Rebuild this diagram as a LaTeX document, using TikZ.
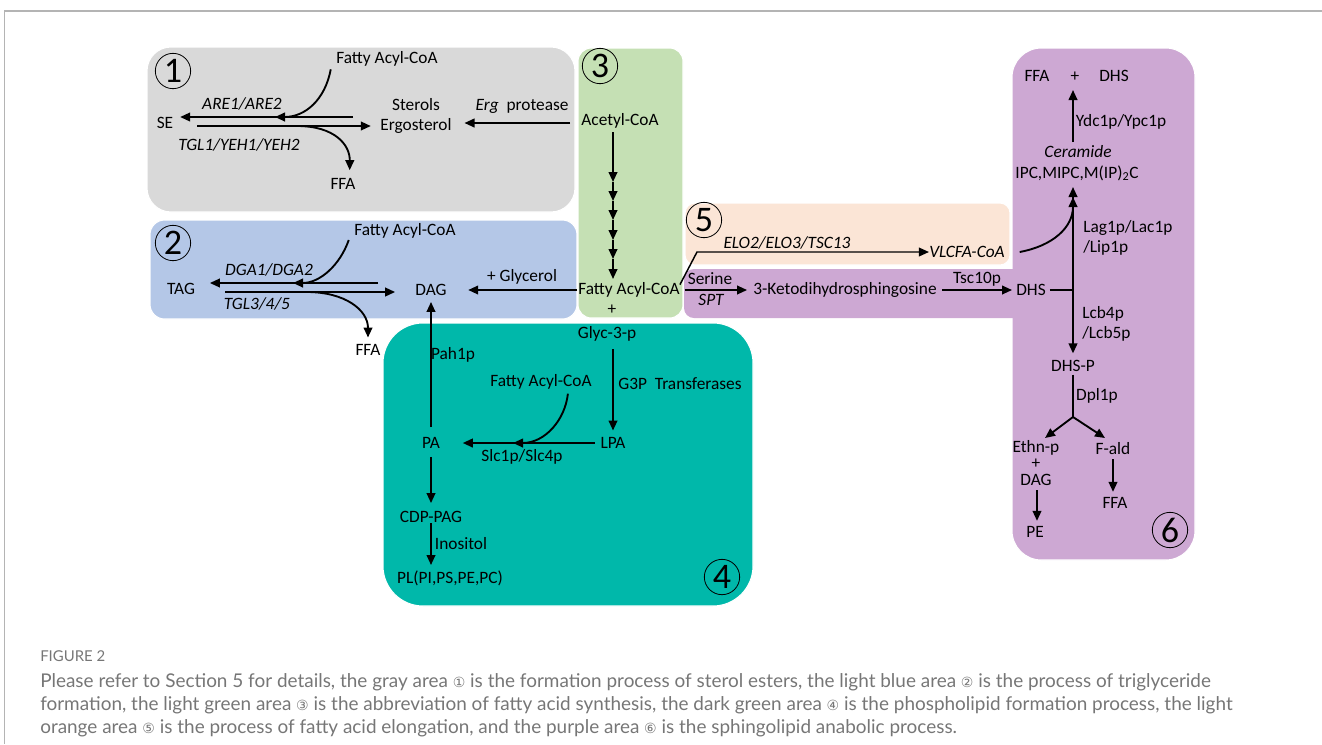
\documentclass[tikz,border=0pt]{standalone}
\usepackage{fontspec}
\setmainfont{Carlito}
\newfontfamily\capfont{Lato}
\newfontfamily\symfont{DejaVu Sans}
\usepackage{tikz}
\usetikzlibrary{arrows.meta}
\definecolor{graybox}{HTML}{D9D9D9}
\definecolor{bluebox}{HTML}{B4C7E7}
\definecolor{greenbox}{HTML}{C5E0B4}
\definecolor{orangebox}{HTML}{FBE5D6}
\definecolor{purplebox}{HTML}{CDA8D3}
\definecolor{tealbox}{HTML}{00B8AA}
\definecolor{captext}{HTML}{767676}
\definecolor{framegray}{HTML}{B4B4B4}
\tikzstyle{line} = [draw, -{Triangle[length=7.5pt,width=6.5pt]}, line width=1.4pt]
\tikzstyle{plain} = [draw, line width=1.4pt]
\tikzstyle{eline} = [draw, -{Triangle[length=7.5pt,width=6.5pt]}, line width=1.1pt]
\tikzstyle{num} = [circle, draw, line width=0.6pt, inner sep=0pt, minimum size=26.5pt, font=\fontsize{27}{27}\selectfont]
\tikzstyle{box} = [draw=white, line width=0.8pt]
\tikzstyle{captxt} = [anchor=base west, inner sep=0pt, text=captext, font=\capfont\fontsize{14.2}{17}\selectfont]
\newcommand{\cnum}[1]{{\symfont\fontsize{10.5}{11}\selectfont #1}}

\begin{document}
\begin{tikzpicture}[x=7.5pt,y=-7.5pt,font=\fontsize{13}{15}\selectfont,every node/.append style={inner sep=0pt}]
	\useasboundingbox (0,0) rectangle (132.2,74.4);
	\draw[framegray, line width=1pt] (132.2,1.1) -- (0.45,1.1) -- (0.45,74.4);
	% -------------- areas --------------
	\filldraw[box, fill=graybox, rounded corners=18pt]     (14.7,4.7)  rectangle (57.5,21.2);
	\filldraw[box, fill=bluebox, rounded corners=11pt]     (15.0,22.0) rectangle (57.7,31.9);
	\filldraw[box, fill=greenbox, rounded corners=10pt]    (57.8,4.8)  rectangle (68.3,31.8);
	\filldraw[box, fill=purplebox, rounded corners=22pt]   (101.2,4.8) rectangle (119.5,56.0);
	\fill[purplebox, rounded corners=7.5pt]                (68.4,26.9) rectangle (103.0,31.8);
	\filldraw[box, fill=orangebox, rounded corners=7.5pt]  (68.5,20.3) rectangle (101.0,26.5);
	\filldraw[box, fill=tealbox, rounded corners=30pt]     (38.3,32.3) rectangle (75.3,60.6);
	% -------------- Area 1 --------------
	\node[num] (n1) at (17.3,7.1) {1};
	\node (fa1)  at (38.7,5.9)  {Fatty Acyl-CoA};
	\node (are)  at (24.2,10.4) {\itshape ARE1/ARE2};
	\node (se)   at (16.5,12.3) {SE};
	\node[align=center] (ster) at (41.6,11.6) {Sterols\\Ergosterol};
	\node (erg)  at (52.2,10.6) {\textit{Erg}\ \ protease};
	\node (tgl1) at (23.9,14.5) {\itshape TGL1/YEH1/YEH2};
	\node (ffa1) at (34.3,18.4) {FFA};
	\coordinate (s1a) at (35.3,11.7);
	\coordinate (s1b) at (19.7,12.6);
	\coordinate (s1c) at (27.5,11.7);
	\coordinate (s1d) at (29.7,12.6);
	\coordinate (s1e) at (57.0,12.3);
	\draw[line] (s1a) -- ([xshift=5pt]se.east |- s1a);
	\draw[line] (s1b) -- ([xshift=-7pt]ster.west |- s1b);
	\draw[line] ([xshift=-4pt,yshift=-2pt]fa1.south west) .. controls (32.5,10.0) and (30.5,11.7) .. (s1c);
	\draw[line] (s1d) .. controls (33.5,12.6) and (35.0,14.5) .. ([xshift=5pt,yshift=6pt]ffa1.north);
	\draw[line] (s1e) -- ([xshift=9.5pt]ster.east |- s1e);
	% -------------- Area 2 --------------
	\node[num] (n2) at (17.3,24.3) {2};
	\node (fa2)  at (40.5,23.1) {Fatty Acyl-CoA};
	\node (dga)  at (26.9,27.0) {\itshape DGA1/DGA2};
	\node (tag)  at (18.1,28.9) {TAG};
	\node (dag)  at (43.1,29.0) {DAG};
	\node (glyr) at (52.2,27.7) {+ Glycerol};
	\node (tgl3) at (25.7,30.4) {\itshape TGL3/4/5};
	\node (ffa2) at (36.8,35.0) {FFA};
	\coordinate (s2a) at (37.8,28.3);
	\coordinate (s2b) at (22.5,29.2);
	\coordinate (s2c) at (29.3,28.3);
	\coordinate (s2d) at (30.7,29.2);
	\draw[line] (s2a) -- ([xshift=11pt]tag.east |- s2a);
	\draw[line] (s2b) -- ([xshift=-15pt]dag.west |- s2b);
	\draw[line] ([xshift=-4pt,yshift=-1pt]fa2.south west) .. controls (34.0,26.5) and (32.0,28.3) .. (s2c);
	\draw[line] (s2d) .. controls (34.5,29.2) and (36.8,31.0) .. ([yshift=5pt]ffa2.north);
	% -------------- Area 3 --------------
	\node[num] (n3) at (60.0,6.6) {3};
	\node (acet)  at (62.0,12.1) {Acetyl-CoA};
	\node (facoa) at (62.9,29.0) {Fatty Acyl-CoA};
	\node (plus3) at (61.2,31.0) {+};
	\node (glyc)  at (60.7,33.4) {Glyc-3-p};
	\foreach \y [remember=\y as \py (initially 13.2)] in {18.2,20.1,22.0,24.0,25.9,27.9}
		\draw[line] (61.3,\py) -- (61.3,\y);
	\draw[line] ([xshift=-0.5pt]facoa.west) -- ([xshift=16pt]dag.east);
	% -------------- Area 4 --------------
	\node[num] (n4) at (72.2,57.7) {4};
	\node (lpa)  at (61.3,44.3) {LPA};
	\node (pa)   at (43.1,44.3) {PA};
	\node (cdp)  at (43.1,51.7) {CDP-PAG};
	\node (pl)   at (45.0,57.8) {PL(PI,PS,PE,PC)};
	\node (fa4)  at (54.1,38.2) {Fatty Acyl-CoA};
	\node (g3p)  at (68.0,38.4) {G3P\ \ Transferases};
	\node (pah)  at (45.3,35.5) {Pah1p};
	\node (slc)  at (52.2,45.7) {Slc1p/Slc4p};
	\node (inos) at (46.1,54.4) {Inositol};
	\coordinate (m4) at (51.3,44.3);
	\coordinate (pltop) at (43.1,56.5);
	\draw[line] ([yshift=-5.5pt]glyc.south -| lpa.north) -- ([yshift=5pt]lpa.north);
	\draw[line] ([xshift=-4pt]lpa.west) -- ([xshift=17pt]pa.east);
	\draw[line] ([xshift=-18pt,yshift=-3pt]fa4.south east) .. controls (56.5,42.0) and (54.5,44.3) .. (m4);
	\draw[line] ([yshift=7.5pt]pa.north) -- ([yshift=-4.5pt]dag.south);
	\draw[line] ([yshift=-6pt]pa.south) -- ([yshift=6pt]cdp.north);
	\draw[line] (cdp.south) -- (pltop);
	% -------------- Area 5 --------------
	\node[num] (n5) at (70.4,22.0) {5};
	\node (elo)   at (78.7,24.3) {\itshape ELO2/ELO3/TSC13};
	\node (vlcfa) at (96.7,25.2) {\itshape VLCFA-CoA};
	\draw[eline] ([yshift=4pt]facoa.east) -- (69.7,25.2) -- (vlcfa.west);
	% -------------- Area 6 --------------
	\node[num] (n6) at (117.0,53.0) {6};
	\node (ser)   at (71.0,27.9)  {Serine};
	\node (spt)   at (71.1,30.0)  {\itshape SPT};
	\node (keto)  at (84.5,29.0)  {3-Ketodihydrosphingosine};
	\node (tsc)   at (97.7,27.9)  {Tsc10p};
	\node (dhs)   at (103.1,29.0) {DHS};
	\node (ffa6)  at (103.7,7.6)  {FFA};
	\node (plus6) at (107.5,7.7)  {+};
	\node (dhs2)  at (111.4,7.6)  {DHS};
	\node (ydc)   at (112.1,12.2) {Ydc1p/Ypc1p};
	\node (cer)   at (107.8,15.2) {\itshape Ceramide};
	\node (ipc)   at (107.7,17.3) {IPC,MIPC,M(IP)\textsubscript{2}C};
	\node[anchor=west, align=left] (lag) at (108.3,23.8) {Lag1p/Lac1p\\/Lip1p};
	\node[anchor=west, align=left] (lcb) at (108.2,32.4) {Lcb4p\\/Lcb5p};
	\node (dhsp)  at (107.3,36.6) {DHS-P};
	\node (dpl)   at (109.7,39.6) {Dpl1p};
	\node[align=center, font=\fontsize{13}{12.3}\selectfont] (ethn) at (103.6,46.3) {Ethn-p\\+\\DAG};
	\node (fald)  at (111.3,44.9) {F-ald};
	\node (ffa7)  at (111.5,50.3) {FFA};
	\node (pe)    at (103.5,53.2) {PE};
	\coordinate (jn)  at (107.3,29.0);
	\coordinate (br)  at (107.3,41.7);
	\coordinate (up1) at (107.3,18.7);
	\coordinate (up2) at (107.3,19.7);
	\coordinate (cerup) at (107.3,14.2);
	\coordinate (topdn) at (107.3,9.0);
	\coordinate (bl)  at (104.5,43.8);
	\coordinate (bra) at (110.5,43.8);
	\coordinate (dagdn) at (103.7,49.0);
	\draw[line] ([xshift=3.5pt]facoa.east) -- ([xshift=-4.5pt]keto.west);
	\draw[line] ([xshift=4pt]keto.east) -- ([xshift=-3pt]dhs.west);
	\draw[plain] ([xshift=3pt]dhs.east) -- (jn);
	\draw[line] (jn) -- (up1);
	\draw[line] ([xshift=11pt]vlcfa.east) .. controls (105.2,24.6) and (107.3,22.8) .. (up2);
	\draw[line] (cerup) -- (topdn);
	\draw[line] (jn) -- ([yshift=5pt]dhsp.north);
	\draw[plain] ([yshift=-2pt]dhsp.south) -- (br);
	\draw[line] (br) -- (bl);
	\draw[line] (br) -- (bra);
	\draw[line] ([yshift=-3pt]fald.south) -- ([yshift=4pt]ffa7.north -| fald.south);
	\draw[line] (dagdn) -- ([yshift=4pt]pe.north -| dagdn);
	% -------------- caption --------------
	\node[captxt, font=\capfont\fontsize{11.2}{13}\selectfont] (figlab) at (4.0,66.1) {FIGURE 2};
	\node[captxt] (cap1) at (4.0,68.7) {Please refer to Section 5 for details, the gray area \cnum{①} is the formation process of sterol esters, the light blue area \cnum{②} is the process of triglyceride};
	\node[captxt] (cap2) at (4.0,71.0) {formation, the light green area \cnum{③} is the abbreviation of fatty acid synthesis, the dark green area \cnum{④} is the phospholipid formation process, the light};
	\node[captxt] (cap3) at (4.0,73.3) {orange area \cnum{⑤} is the process of fatty acid elongation, and the purple area \cnum{⑥} is the sphingolipid anabolic process.};
\end{tikzpicture}
\end{document}
